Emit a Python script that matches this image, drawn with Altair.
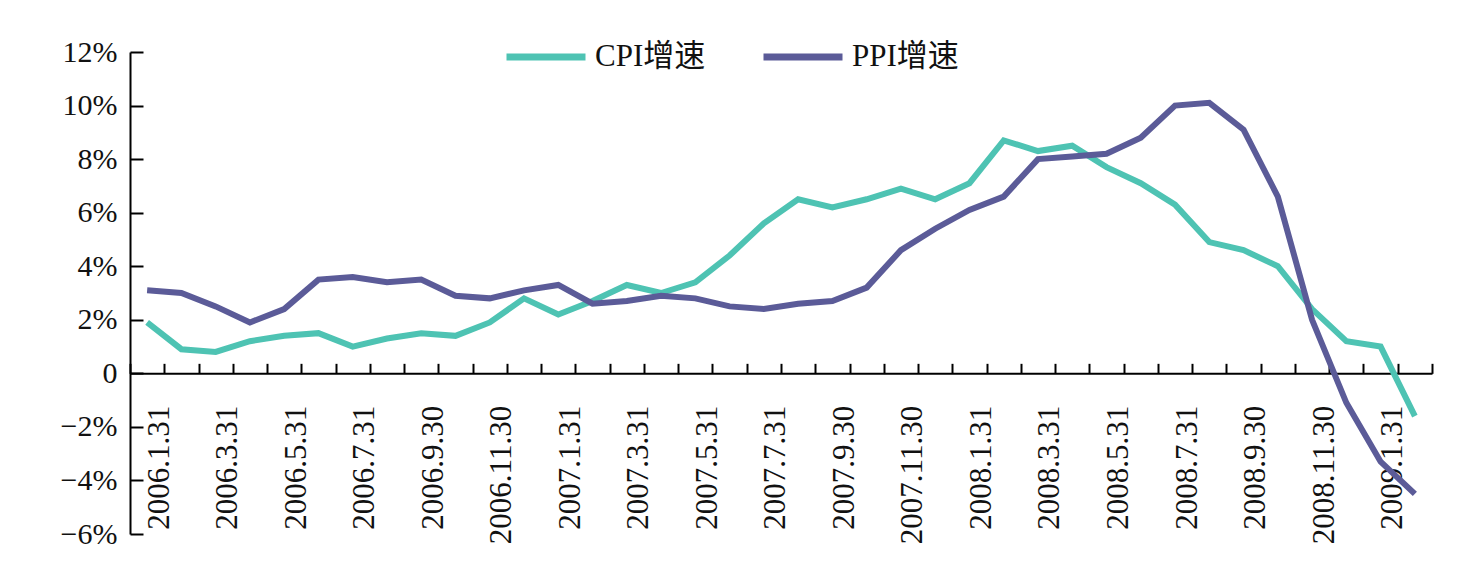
import altair as alt
import pandas as pd

months = [
    "2006.1.31", "2006.2.28", "2006.3.31", "2006.4.30", "2006.5.31", "2006.6.30",
    "2006.7.31", "2006.8.31", "2006.9.30", "2006.10.31", "2006.11.30", "2006.12.31",
    "2007.1.31", "2007.2.28", "2007.3.31", "2007.4.30", "2007.5.31", "2007.6.30",
    "2007.7.31", "2007.8.31", "2007.9.30", "2007.10.31", "2007.11.30", "2007.12.31",
    "2008.1.31", "2008.2.29", "2008.3.31", "2008.4.30", "2008.5.31", "2008.6.30",
    "2008.7.31", "2008.8.31", "2008.9.30", "2008.10.31", "2008.11.30", "2008.12.31",
    "2009.1.31", "2009.2.28",
]
cpi = [1.9, 0.9, 0.8, 1.2, 1.4, 1.5, 1.0, 1.3, 1.5, 1.4, 1.9, 2.8,
       2.2, 2.7, 3.3, 3.0, 3.4, 4.4, 5.6, 6.5, 6.2, 6.5, 6.9, 6.5,
       7.1, 8.7, 8.3, 8.5, 7.7, 7.1, 6.3, 4.9, 4.6, 4.0, 2.4, 1.2,
       1.0, -1.6]
ppi = [3.1, 3.0, 2.5, 1.9, 2.4, 3.5, 3.6, 3.4, 3.5, 2.9, 2.8, 3.1,
       3.3, 2.6, 2.7, 2.9, 2.8, 2.5, 2.4, 2.6, 2.7, 3.2, 4.6, 5.4,
       6.1, 6.6, 8.0, 8.1, 8.2, 8.8, 10.0, 10.1, 9.1, 6.6, 2.0, -1.1,
       -3.3, -4.5]
series_names = ["CPI增速", "PPI增速"]
series_colors = ["#4EC3B3", "#5B5B98"]
y_ticks = [-6, -4, -2, 0, 2, 4, 6, 8, 10, 12]

rows = []
for m, c, p in zip(months, cpi, ppi):
    rows.append({"month": m, "series": series_names[0], "value": c})
    rows.append({"month": m, "series": series_names[1], "value": p})
df = pd.DataFrame(rows)

W, H = 1302, 482
YMIN, YMAX = -6, 12
zero_offset = -H * (0 - YMIN) / (YMAX - YMIN)

FONT = "Liberation Serif, Times New Roman, Noto Sans CJK SC"

chart = alt.Chart(df).mark_line(strokeWidth=6, strokeJoin="miter").encode(
    x=alt.X(
        "month:N",
        sort=months,
        bandPosition=0.5,
        scale=alt.Scale(type="band", paddingInner=0, paddingOuter=0),
        axis=alt.Axis(
            title=None,
            orient="bottom",
            offset=zero_offset,
            tickBand="extent",
            tickSize={"expr": "-10"},
            tickWidth=2,
            tickColor="#000000",
            domainColor="#000000",
            domainWidth=2,
            labelAngle=270,
            labelPadding=42,
            labelOffset=12,
            labelOverlap=False,
            labelFont=FONT,
            labelFontSize=31,
            labelColor="#111111",
            labelExpr="parseInt(split(datum.label, '.')[1]) % 2 == 1 ? datum.label : ''",
            grid=False,
        ),
    ),
    y=alt.Y(
        "value:Q",
        scale=alt.Scale(domain=[YMIN, YMAX], nice=False, zero=False),
        axis=alt.Axis(
            title=None,
            values=y_ticks,
            tickSize={"expr": "-13"},
            tickWidth=2,
            tickColor="#000000",
            domainColor="#000000",
            domainWidth=2,
            labelPadding=26,
            labelFont=FONT,
            labelFontSize=30,
            labelColor="#111111",
            labelExpr="datum.value == 0 ? '0' : replace(format(datum.value, 'd') + '%', '-', '−')",
            grid=False,
        ),
    ),
    color=alt.Color(
        "series:N",
        scale=alt.Scale(domain=series_names, range=series_colors),
        legend=alt.Legend(
            title=None,
            orient="none",
            direction="horizontal",
            legendX=373,
            legendY=-38,
            symbolType="stroke",
            symbolSize=6241,
            symbolStrokeWidth=7,
            labelFont=FONT,
            labelFontSize=31,
            labelColor="#111111",
            labelOffset=6,
            columnPadding=43,
        ),
    ),
    order=alt.Order("series:N"),
).properties(
    width=W,
    height=H,
    background="white",
    autosize=alt.AutoSizeParams(type="none"),
    padding={"left": 130, "top": 52, "right": 31, "bottom": 49},
).configure_view(stroke=None)

chart.save("out.html", embed_options={"renderer": "svg", "actions": False})
